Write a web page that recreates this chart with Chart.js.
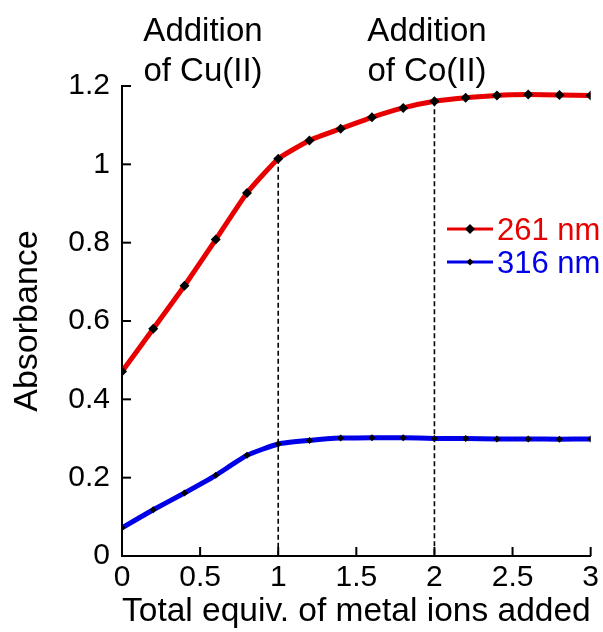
<!DOCTYPE html>
<html lang="en">
  <head>
    <meta charset="UTF-8" />
    <title>Absorbance vs metal equivalents</title>
    <script src="https://cdn.jsdelivr.net/npm/chart.js"></script>
    <style>
      html, body { margin: 0; padding: 0; background: #ffffff; }
      #wrap { width: 603px; height: 632px; }
    </style>
  </head>
  <body>
    <div id="wrap"><canvas id="absChart" width="603" height="632"></canvas></div>
    <script>
      // equivalents of metal ions added
      const equiv = [0, 0.2, 0.4, 0.6, 0.8, 1.0, 1.2, 1.4, 1.6, 1.8, 2.0, 2.2, 2.4, 2.6, 2.8, 3.0];
      const abs261 = [0.471, 0.580, 0.690, 0.808, 0.927, 1.014, 1.061, 1.091, 1.120, 1.144, 1.161, 1.170, 1.176, 1.178, 1.177, 1.176];
      const abs316 = [0.072, 0.118, 0.161, 0.206, 0.257, 0.286, 0.295, 0.301, 0.302, 0.302, 0.300, 0.300, 0.299, 0.299, 0.298, 0.299];
      const seriesNames = ["261 nm", "316 nm"];
      const markerEquiv = [1, 2]; // dashed guide lines
      const notes = [["Addition", "of Cu(II)"], ["Addition", "of Co(II)"]];

      const FONT = "'Liberation Sans', Arial, sans-serif";
      Chart.defaults.font.family = FONT;
      Chart.defaults.color = "#000";

      const toPts = (ys) => equiv.map((x, i) => ({ x: x, y: ys[i] }));

      // inward ticks, dashed guides, annotations and legend
      const decor = {
        id: "decor",
        beforeDatasetsDraw(chart) {
          const ctx = chart.ctx;
          const xs = chart.scales.x, ys = chart.scales.y;
          ctx.save();
          ctx.strokeStyle = "#000";
          ctx.lineWidth = 1.6;
          ctx.setLineDash([5, 3]);
          markerEquiv.forEach((m) => {
            const idx = equiv.indexOf(m);
            const px = xs.getPixelForValue(m);
            ctx.beginPath();
            ctx.moveTo(px, ys.getPixelForValue(abs261[idx]));
            ctx.lineTo(px, ys.getPixelForValue(0));
            ctx.stroke();
          });
          ctx.restore();
        },
        afterDraw(chart) {
          const ctx = chart.ctx;
          const xs = chart.scales.x, ys = chart.scales.y;
          const area = chart.chartArea;
          ctx.save();
          ctx.strokeStyle = "#000";
          ctx.lineWidth = 2;
          xs.ticks.forEach((t) => {
            const px = xs.getPixelForValue(t.value);
            ctx.beginPath();
            ctx.moveTo(px, area.bottom);
            ctx.lineTo(px, area.bottom - 9);
            ctx.stroke();
          });
          ys.ticks.forEach((t) => {
            const py = ys.getPixelForValue(t.value);
            ctx.beginPath();
            ctx.moveTo(area.left, py);
            ctx.lineTo(area.left + 9, py);
            ctx.stroke();
          });

          // annotations above the plot
          ctx.fillStyle = "#000";
          ctx.font = "33px " + FONT;
          ctx.textAlign = "center";
          ctx.textBaseline = "alphabetic";
          const noteX = [203, 427];
          notes.forEach((lines, i) => {
            ctx.fillText(lines[0], noteX[i], 41);
            ctx.fillText(lines[1], noteX[i], 81);
          });

          // legend inside the plot, text in series colour
          ctx.textAlign = "left";
          ctx.textBaseline = "middle";
          chart.data.datasets.forEach((ds, i) => {
            const y = 229 + i * 33;
            ctx.strokeStyle = ds.borderColor;
            ctx.lineWidth = 3;
            ctx.beginPath();
            ctx.moveTo(447, y);
            ctx.lineTo(493, y);
            ctx.stroke();
            const r = ds.pointRadius;
            ctx.fillStyle = "#000";
            ctx.beginPath();
            ctx.moveTo(470, y - r);
            ctx.lineTo(470 + r, y);
            ctx.lineTo(470, y + r);
            ctx.lineTo(470 - r, y);
            ctx.closePath();
            ctx.fill();
            ctx.fillStyle = ds.borderColor;
            ctx.font = "31px " + FONT;
            ctx.fillText(ds.label, 497, y + 2);
          });
          ctx.restore();
        },
      };

      new Chart(document.getElementById("absChart"), {
        type: "line",
        data: {
          datasets: [
            {
              label: seriesNames[0],
              data: toPts(abs261),
              borderColor: "rgb(232, 0, 0)",
              borderWidth: 5,
              pointStyle: "rectRot",
              pointRadius: 5,
              pointBackgroundColor: "#000",
              pointBorderColor: "#000",
              pointBorderWidth: 0,
              tension: 0.15,
            },
            {
              label: seriesNames[1],
              data: toPts(abs316),
              borderColor: "rgb(0, 0, 232)",
              borderWidth: 5,
              pointStyle: "rectRot",
              pointRadius: 3.5,
              pointBackgroundColor: "#000",
              pointBorderColor: "#000",
              pointBorderWidth: 0,
              tension: 0.15,
            },
          ],
        },
        options: {
          responsive: false,
          animation: false,
          devicePixelRatio: 1,
          layout: { padding: { top: 86, right: 11, left: 0, bottom: 0 } },
          plugins: { legend: { display: false }, tooltip: { enabled: false } },
          scales: {
            x: {
              type: "linear",
              min: 0,
              max: 3,
              ticks: {
                stepSize: 0.5,
                padding: 4,
                font: { size: 30 },
                maxRotation: 0,
                callback: (v) => String(+v.toFixed(1)),
              },
              grid: { display: false, drawTicks: false },
              border: { display: true, color: "#000", width: 2 },
              title: {
                display: true,
                text: "Total equiv. of metal ions added",
                font: { size: 34 },
                padding: { top: 0, bottom: 0 },
              },
              afterFit: (s) => { s.height = 76; },
            },
            y: {
              min: 0,
              max: 1.2,
              ticks: {
                stepSize: 0.2,
                padding: 12,
                font: { size: 30 },
                callback: (v) => String(+v.toFixed(1)),
              },
              grid: { display: false, drawTicks: false },
              border: { display: true, color: "#000", width: 2 },
              title: {
                display: true,
                text: "Absorbance",
                font: { size: 34 },
                padding: { top: 7, bottom: 0 },
              },
              afterFit: (s) => { s.width = 122; },
            },
          },
        },
        plugins: [decor],
      });
    </script>
  </body>
</html>
